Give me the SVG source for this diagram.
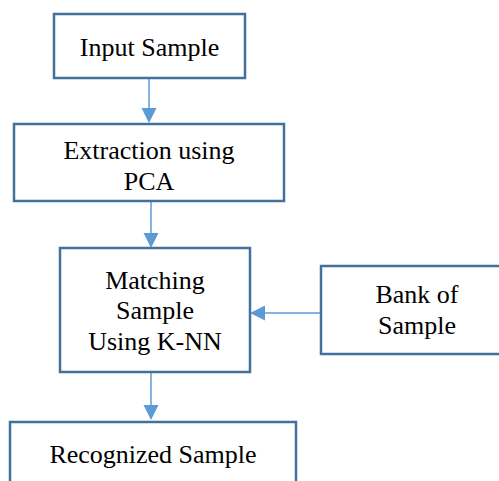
<svg xmlns="http://www.w3.org/2000/svg" width="499" height="481" viewBox="0 0 499 481">
<style>
.box{fill:#fff;stroke:#41719C;stroke-width:2.5}
.t{font-family:'Liberation Serif','DejaVu Serif',serif;font-size:26px;fill:#000;text-anchor:middle}
.c{stroke:#5B9BD5;stroke-width:1.5;fill:none}
.h{fill:#5B9BD5}
</style>
<rect width="499" height="481" fill="#fff"/>
<g id="connectors">
<line class="c" x1="149" y1="79" x2="149" y2="110"/>
<polygon class="h" points="141.5,108 156.5,108 149,123"/>
<line class="c" x1="151" y1="202" x2="151" y2="235"/>
<polygon class="h" points="143.5,233 158.5,233 151,248"/>
<line class="c" x1="321" y1="313" x2="262" y2="313"/>
<polygon class="h" points="265,305.5 265,320.5 250,313"/>
<line class="c" x1="151" y1="373" x2="151" y2="407"/>
<polygon class="h" points="143.5,405 158.5,405 151,420"/>
</g>
<g id="input"><rect class="box" x="54" y="14" width="191" height="64"/><text class="t" x="149.5" y="56">Input Sample</text></g>
<g id="extraction"><rect class="box" x="14" y="124" width="270" height="77"/><text class="t" x="149" y="159">Extraction using</text><text class="t" x="149" y="190">PCA</text></g>
<g id="matching"><rect class="box" x="60" y="248" width="190" height="124"/><text class="t" x="155" y="289">Matching</text><text class="t" x="155" y="319">Sample</text><text class="t" x="155" y="350">Using K-NN</text></g>
<g id="bank"><rect class="box" x="321" y="266" width="190" height="88"/><text class="t" x="417" y="303">Bank of</text><text class="t" x="417" y="334">Sample</text></g>
<g id="recognized"><rect class="box" x="10" y="422" width="286" height="80"/><text class="t" x="153" y="463">Recognized Sample</text></g>
</svg>
